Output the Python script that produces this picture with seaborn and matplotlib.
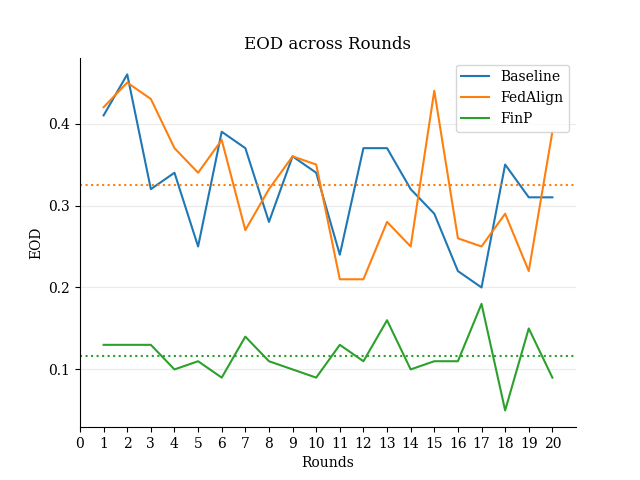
import matplotlib
matplotlib.use('Agg')
import matplotlib.pyplot as plt
import seaborn as sns
import pandas as pd
import numpy as np

plt.rcParams['font.family'] = 'DejaVu Serif'

rounds = list(range(1, 21))
baseline = [0.41, 0.46, 0.32, 0.34, 0.25, 0.39, 0.37, 0.28, 0.36, 0.34,
            0.24, 0.37, 0.37, 0.32, 0.29, 0.22, 0.20, 0.35, 0.31, 0.31]
fedalign = [0.42, 0.45, 0.43, 0.37, 0.34, 0.38, 0.27, 0.32, 0.36, 0.35,
            0.21, 0.21, 0.28, 0.25, 0.44, 0.26, 0.25, 0.29, 0.22, 0.39]
finp = [0.13, 0.13, 0.13, 0.10, 0.11, 0.09, 0.14, 0.11, 0.10, 0.09,
        0.13, 0.11, 0.16, 0.10, 0.11, 0.11, 0.18, 0.05, 0.15, 0.09]

df = pd.DataFrame({'Round': rounds * 3,
                   'EOD': baseline + fedalign + finp,
                   'Method': ['Baseline'] * 20 + ['FedAlign'] * 20 + ['FinP'] * 20})

colors = ['#1f77b4', '#ff7f0e', '#2ca02c']

fig, ax = plt.subplots(figsize=(6.4, 4.8), dpi=100)
sns.lineplot(data=df, x='Round', y='EOD', hue='Method', palette=colors, ax=ax)

# mean lines (dotted)
ax.axhline(np.mean(baseline), color=colors[1], linestyle=':', linewidth=1.5)
ax.axhline(np.mean(finp), color=colors[2], linestyle=':', linewidth=1.5)

ax.set_xlim(0, 21)
ax.set_xticks(range(0, 21))
ax.set_xlabel('Rounds')
ax.set_ylabel('EOD')
ax.set_title('EOD across Rounds')
ax.grid(axis='y', color='#ebebeb', linewidth=0.8)
ax.set_axisbelow(True)
ax.spines['top'].set_visible(False)
ax.spines['right'].set_visible(False)
ax.legend(loc='upper right')

plt.savefig('out.png', dpi=100)
